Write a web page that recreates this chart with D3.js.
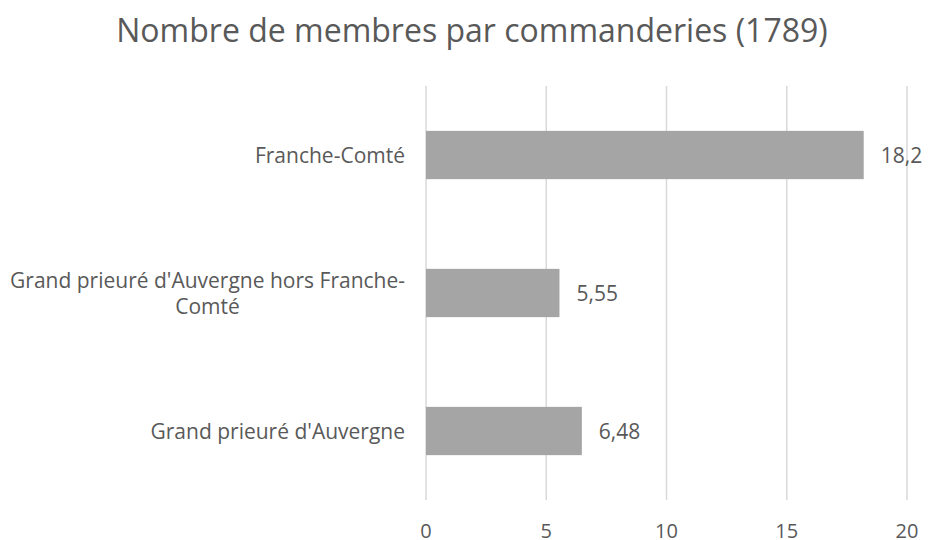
<!DOCTYPE html>
<html>
<head>
<meta charset="utf-8">
<script src="https://cdn.jsdelivr.net/npm/d3@7"></script>
<style>
  body { margin: 0; background: #fff; }
  text { font-family: "Open Sans", sans-serif; fill: #595959; }
</style>
</head>
<body>
<svg id="chart" width="928" height="540"></svg>
<script>
var categories = ["Franche-Comté", "Grand prieuré d'Auvergne hors Franche-Comté", "Grand prieuré d'Auvergne"];
var labelLines = [["Franche-Comté"], ["Grand prieuré d'Auvergne hors Franche-", "Comté"], ["Grand prieuré d'Auvergne"]];
var values = [18.2, 5.55, 6.48];
var valueLabels = ["18,2", "5,55", "6,48"];
var xTicks = [0, 5, 10, 15, 20];
var title = "Nombre de membres par commanderies (1789)";

var svg = d3.select("#chart"),
  width = +svg.attr("width"),
  height = +svg.attr("height");

var margin = { top: 86, right: 21, bottom: 40, left: 426 };

var x = d3.scaleLinear()
  .domain([0, 20])
  .range([margin.left, width - margin.right]);

var y = d3.scaleBand()
  .domain(categories)
  .range([margin.top, height - margin.bottom])
  .paddingInner(0.65)
  .paddingOuter(0.325);

svg.append("text")
  .attr("x", 472)
  .attr("y", 42)
  .attr("text-anchor", "middle")
  .style("font-size", "32px")
  .text(title);

// gridlines
svg.append("g")
  .selectAll("line")
  .data(xTicks)
  .enter()
  .append("line")
  .attr("x1", function (d) { return x(d); })
  .attr("x2", function (d) { return x(d); })
  .attr("y1", margin.top)
  .attr("y2", height - margin.bottom)
  .attr("stroke", "#d9d9d9")
  .attr("stroke-width", 1.5);

// x tick labels
svg.append("g")
  .selectAll("text")
  .data(xTicks)
  .enter()
  .append("text")
  .attr("x", function (d) { return x(d); })
  .attr("y", 538)
  .attr("text-anchor", "middle")
  .style("font-size", "20px")
  .text(function (d) { return d; });

var rows = categories.map(function (c, i) {
  return { cat: c, value: values[i], label: valueLabels[i], lines: labelLines[i] };
});

svg.append("g")
  .selectAll("rect")
  .data(rows)
  .enter()
  .append("rect")
  .attr("x", x(0))
  .attr("y", function (d) { return y(d.cat); })
  .attr("width", function (d) { return x(d.value) - x(0); })
  .attr("height", y.bandwidth())
  .attr("fill", "#a5a5a5");

svg.append("g")
  .selectAll("text")
  .data(rows)
  .enter()
  .append("text")
  .attr("x", function (d) { return x(d.value) + 17; })
  .attr("y", function (d) { return y(d.cat) + y.bandwidth() / 2; })
  .attr("dominant-baseline", "central")
  .style("font-size", "21px")
  .text(function (d) { return d.label; });

// category labels, wrapped lines centred on each other
var cat = svg.append("g")
  .selectAll("g")
  .data(rows)
  .enter()
  .append("g");

cat.each(function (d) {
  var g = d3.select(this);
  var cy = y(d.cat) + y.bandwidth() / 2;
  var lh = 26;
  var n = d.lines.length;
  var widths = [];
  d.lines.forEach(function (line, j) {
    var t = g.append("text")
      .attr("y", cy + (j - (n - 1) / 2) * lh)
      .attr("dominant-baseline", "central")
      .attr("text-anchor", "middle")
      .style("font-size", "21px")
      .text(line);
    widths.push(t.node().getComputedTextLength());
  });
  var w = d3.max(widths);
  g.selectAll("text").attr("x", 405 - w / 2);
});
</script>
</body>
</html>
